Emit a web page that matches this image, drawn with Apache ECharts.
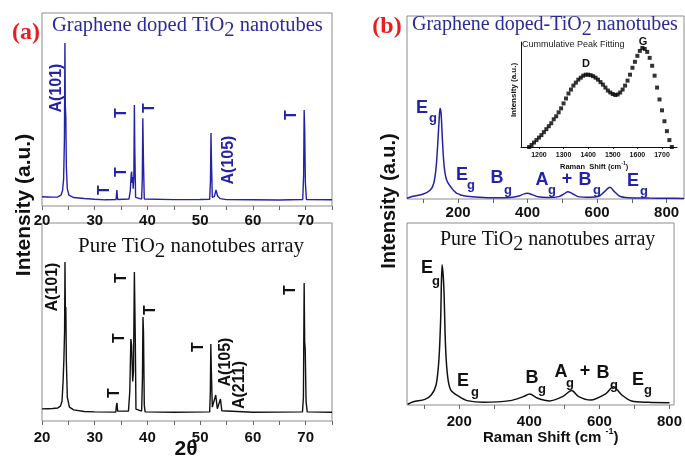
<!DOCTYPE html>
<html>
<head>
<meta charset="UTF-8">
<title>XRD and Raman of TiO2 nanotubes</title>
<script src="https://cdn.jsdelivr.net/npm/echarts@6/dist/echarts.min.js"></script>
<style>html,body{margin:0;background:#fff}#main{width:685px;height:462px}</style>
</head>
<body>
<div id="main"></div>
<script>
// XRD patterns: [2theta, intensity a.u.]
var xrdGraphene = [[20,4.8],[21,4.7],[22,4.6],[23,4.7],[23.6,5.6],[23.9,8],[24.1,14],[24.25,34],[24.35,84.5],[24.42,52],[24.52,46],[24.62,20],[24.8,9],[25.1,5.6],[26,4.4],[28,3.9],[30,3.5],[32,3.2],[34.05,3.3],[34.2,8.3],[34.35,3.4],[36.5,3.6],[36.75,8],[36.9,16],[37.0,17.8],[37.1,12],[37.2,15],[37.3,9],[37.42,15],[37.52,52.3],[37.6,30],[37.75,4.5],[38.9,3.6],[39.02,14],[39.12,45.4],[39.25,22],[39.4,3.6],[45,3.3],[50,3.4],[51.8,3.5],[51.95,13],[52.05,37.8],[52.15,22],[52.3,4.5],[52.7,5],[53.0,8.3],[53.3,5.2],[53.8,3.8],[55,3.3],[60,3.2],[65,3.1],[69.45,3.4],[69.62,16],[69.72,49.7],[69.82,40],[69.95,12],[70.15,3.4],[75,3.2]];
var xrdPure = [[20,6.1],[21,6.2],[22,6.3],[23,6.6],[23.5,7.5],[23.8,10],[24.0,20],[24.15,31],[24.28,45],[24.36,80.3],[24.43,56],[24.52,57.6],[24.62,30],[24.8,12],[25.2,7],[26,5.6],[28,4.8],[30,4.6],[34.0,4.5],[34.12,8],[34.22,9.1],[34.35,5],[34.6,4.4],[36.4,5],[36.65,15],[36.85,41.4],[37.0,38],[37.2,20],[37.35,25],[37.52,75.3],[37.6,60],[37.7,40],[37.82,6],[38.9,5],[39.05,22],[39.15,52.5],[39.25,45],[39.4,8],[39.55,4.6],[45,4.4],[51.8,4.6],[51.93,15],[52.02,38.9],[52.12,25],[52.3,7],[52.6,6],[52.95,13.1],[53.25,6.2],[53.5,5.8],[53.85,11.1],[54.1,5.2],[54.4,4.6],[60,4.4],[69.4,4.6],[69.58,12],[69.72,69.7],[69.82,40],[69.92,36.4],[70.08,10],[70.3,4.6],[75,4.4]];

// Raman spectra: [shift cm-1, intensity a.u.]
var ramanGraphene = [[53,0.4],[70,1.5],[100,2.7],[120,4.9],[130,8.6],[137,17.7],[142,32],[146,45],[148,49.5],[151,47],[155,32],[160,17.7],[167,10.4],[182,5.8],[195,3.2],[201,2.8],[210,2],[225,1.5],[260,1],[300,0.7],[350,0.8],[375,1.6],[390,2.8],[400,3.1],[412,2.5],[430,1.2],[460,0.8],[490,1.3],[505,2.8],[516,4],[528,3],[545,1.3],[580,0.9],[605,1.5],[620,3.8],[637,6.4],[650,4],[665,1.5],[690,0.7],[750,0.5],[800,0.4],[850,0.3]];
var ramanPure = [[53,0.4],[69,1.8],[102,3.1],[120,5.5],[134,11],[142,24.7],[147,46.7],[151,77],[156,65],[161,32],[167,15.6],[176,8.2],[200,4.6],[223,2.4],[270,1.5],[345,2.4],[383,4.6],[401,6],[424,3.7],[458,2.2],[495,4.6],[521,7.9],[541,4.6],[575,2.7],[617,6],[640,10],[664,5.5],[692,2.2],[739,1.5],[800,1.3]];

// inset: cumulative peak fitting (D and G bands)
var insetShift = [1160,1170,1180,1190,1200,1210,1220,1230,1240,1250,1260,1270,1280,1290,1300,1310,1320,1330,1340,1350,1360,1370,1380,1390,1400,1410,1420,1430,1440,1450,1460,1470,1480,1490,1500,1510,1520,1530,1540,1550,1560,1570,1580,1590,1600,1610,1620,1630,1640,1650,1660,1670,1680,1690,1700,1710,1720,1730,1740];
var insetInt = [0,0.02,0.045,0.07,0.095,0.12,0.15,0.18,0.21,0.24,0.28,0.31,0.35,0.39,0.44,0.49,0.54,0.58,0.62,0.65,0.68,0.70,0.72,0.73,0.73,0.725,0.715,0.70,0.68,0.655,0.63,0.60,0.57,0.55,0.535,0.525,0.53,0.55,0.58,0.62,0.67,0.73,0.80,0.86,0.92,0.97,1.00,0.99,0.96,0.90,0.82,0.72,0.60,0.48,0.37,0.26,0.16,0.07,0];

var xrdTicks = [20, 30, 40, 50, 60, 70];
var ramanTicks = [200, 400, 600, 800];
var insetTicks = [1200, 1300, 1400, 1500, 1600, 1700];

var blue = '#2323a8';
var blueText = '#2b2b98';
var sans = '"Liberation Sans", Arial, sans-serif';
var serif = '"Liberation Serif", "Times New Roman", serif';

var ctx = document.createElement('canvas').getContext('2d');
function textWidth(str, font) { ctx.font = font; return ctx.measureText(str).width; }

// text pieces laid out one after the other (sub/superscripts)
function runs(x, y, parts, weight, family, color) {
    var out = [];
    parts.forEach(function (p) {
        var font = weight + ' ' + p[1] + 'px ' + family;
        out.push({type: 'text', x: x, y: y + p[2], style: {text: p[0], font: font, fill: color, align: 'left', verticalAlign: 'middle'}});
        x += textWidth(p[0], font);
    });
    return out;
}
function txt(s, x, y, size, color, opt) {
    opt = opt || {};
    return {type: 'text', x: x, y: y, rotation: opt.rot ? Math.PI / 2 : 0,
        style: {text: s, font: (opt.weight || 'bold') + ' ' + size + 'px ' + (opt.family || sans), fill: color, align: 'center', verticalAlign: 'middle'}};
}
function mode(letter, ex, ey, gx, gy, color) {
    return [txt(letter, ex, ey, 18, color), txt('g', gx, gy, 13, color)];
}

var graphic = [];
graphic.push(txt('(a)', 26, 33, 24, '#e5201f', {family: serif}));
graphic.push(txt('(b)', 387, 27, 24, '#e5201f', {family: serif}));
graphic = graphic.concat(
    runs(52, 26, [['Graphene doped TiO', 20.5, 0], ['2', 20.5, 5], [' nanotubes', 20.5, 0]], 'normal', serif, blueText),
    runs(78, 246, [['Pure TiO', 21, 0], ['2', 21, 5], [' nanotubes array', 21, 0]], 'normal', serif, '#111'),
    runs(412, 25, [['Graphene doped-TiO', 20, 0], ['2', 20, 5], [' nanotubes', 20, 0]], 'normal', serif, blueText),
    runs(440, 240, [['Pure TiO', 20, 0], ['2', 20, 5], [' nanotubes array', 20, 0]], 'normal', serif, '#111'),
    runs(483, 438, [['Raman Shift (cm ', 15, 0], ['-1', 9, -6], [')', 15, 0]], 'bold', sans, '#111'),
    runs(560, 167, [['Raman  Shift (cm', 7.5, 0], ['-1', 5, -3], [')', 7.5, 0]], 'bold', sans, '#111')
);
graphic.push(txt('Intensity (a.u.)', 24, 205, 21, '#111', {rot: true}));
graphic.push(txt('Intensity (a.u.)', 389, 201, 20, '#111', {rot: true}));
graphic.push(txt('2θ', 186, 449, 21, '#111'));

// XRD peak labels
[['A(101)', 57, 88], ['T', 105, 190], ['T', 122, 172], ['T', 122, 113], ['T', 150, 108], ['A(105)', 229, 160], ['T', 292, 115]]
    .forEach(function (l) { graphic.push(txt(l[0], l[1], l[2], 16, blue, {rot: true})); });
[['A(101)', 53, 287], ['T', 115, 393], ['T', 120, 338], ['T', 122, 278], ['T', 151, 310], ['T', 199, 347], ['A(105)', 226, 362], ['A(211)', 240, 385], ['T', 291, 290]]
    .forEach(function (l) { graphic.push(txt(l[0], l[1], l[2], 16, '#111', {rot: true})); });

// Raman mode labels
graphic = graphic.concat(
    mode('E', 422, 108, 433, 118, blue), mode('E', 462, 175, 471, 185, blue), mode('B', 497, 178, 508, 190, blue),
    mode('A', 542, 180, 552, 190, blue), [txt('+', 567, 179, 18, blue)], mode('B', 585, 180, 597, 190, blue),
    mode('E', 633, 181, 644, 191, blue),
    mode('E', 427, 268, 436, 281, '#111'), mode('E', 463, 381, 475, 392, '#111'), mode('B', 532, 378, 542, 389, '#111'),
    mode('A', 561, 372, 570, 383, '#111'), [txt('+', 585, 371, 18, '#111')], mode('B', 603, 373, 614, 385, '#111'),
    mode('E', 638, 380, 648, 390, '#111')
);
// inset texts
graphic.push({type: 'text', x: 522, y: 45, style: {text: 'Cummulative Peak Fitting', font: '9px ' + sans, fill: '#222', align: 'left', verticalAlign: 'middle'}});
graphic.push(txt('D', 586, 64, 11, '#111'));
graphic.push(txt('G', 643, 42, 11, '#111'));
graphic.push(txt('Intensity (a.u.)', 514, 90, 8, '#111', {rot: true}));

var gridStyle = {show: true, borderColor: '#8c8c8c', borderWidth: 1, backgroundColor: 'transparent'};
function tickLabel(margin, size) {
    return {color: '#111', fontFamily: sans, fontWeight: 'bold', fontSize: size || 15, margin: margin,
        formatter: function (v) { return String(v); }};
}
var tickLine = {lineStyle: {color: '#666'}, length: 4};

var chart = echarts.init(document.getElementById('main'), null, {renderer: 'canvas'});
chart.setOption({
    animation: false,
    backgroundColor: '#fff',
    grid: [
        Object.assign({left: 42, top: 13, width: 290, height: 193}, gridStyle),
        Object.assign({left: 42, top: 223, width: 290, height: 198}, gridStyle),
        Object.assign({left: 407, top: 16, width: 277, height: 183}, gridStyle),
        Object.assign({left: 407, top: 223, width: 271, height: 182}, gridStyle),
        {left: 521, top: 42, width: 156, height: 105, show: false}
    ],
    xAxis: [
        {gridIndex: 0, type: 'value', min: 20, max: 75, interval: 10, axisLine: {show: false}, axisTick: tickLine,
            minorTick: {show: true, splitNumber: 2, length: 4, lineStyle: {color: '#666'}}, splitLine: {show: false},
            axisLabel: Object.assign({customValues: xrdTicks}, tickLabel(7))},
        {gridIndex: 1, type: 'value', min: 20, max: 75, interval: 10, axisLine: {show: false}, axisTick: tickLine,
            minorTick: {show: true, splitNumber: 2, length: 4, lineStyle: {color: '#666'}}, splitLine: {show: false},
            axisLabel: Object.assign({customValues: xrdTicks}, tickLabel(9))},
        {gridIndex: 2, type: 'value', min: 53, max: 850, axisLine: {show: false},
            axisTick: Object.assign({customValues: [100, 200, 300, 400, 500, 600, 700, 800]}, tickLine), splitLine: {show: false},
            axisLabel: Object.assign({customValues: ramanTicks}, tickLabel(6))},
        {gridIndex: 3, type: 'value', min: 51, max: 813, axisLine: {show: false},
            axisTick: Object.assign({customValues: [100, 200, 300, 400, 500, 600, 700, 800]}, tickLine), splitLine: {show: false},
            axisLabel: Object.assign({customValues: ramanTicks}, tickLabel(9))},
        {gridIndex: 4, type: 'value', min: 1127, max: 1761, axisLine: {show: true, lineStyle: {color: '#111', width: 1}},
            axisTick: {customValues: insetTicks, length: 2, lineStyle: {color: '#111'}}, splitLine: {show: false},
            axisLabel: Object.assign({customValues: insetTicks}, tickLabel(5, 7))}
    ],
    yAxis: [
        {gridIndex: 0, type: 'value', min: 0, max: 100, show: false},
        {gridIndex: 1, type: 'value', min: 0, max: 100, show: false},
        {gridIndex: 2, type: 'value', min: 0, max: 100, show: false},
        {gridIndex: 3, type: 'value', min: 0, max: 100, show: false},
        {gridIndex: 4, type: 'value', min: 0, max: 1.06, axisLine: {show: true, lineStyle: {color: '#111', width: 1}},
            axisTick: {show: false}, axisLabel: {show: false}, splitLine: {show: false}}
    ],
    series: [
        {type: 'line', xAxisIndex: 0, yAxisIndex: 0, data: xrdGraphene, showSymbol: false, lineStyle: {color: blue, width: 1.4}, silent: true},
        {type: 'line', xAxisIndex: 1, yAxisIndex: 1, data: xrdPure, showSymbol: false, lineStyle: {color: '#111', width: 1.4}, silent: true},
        {type: 'line', xAxisIndex: 2, yAxisIndex: 2, data: ramanGraphene, smooth: 0.3, showSymbol: false, lineStyle: {color: blue, width: 1.5}, silent: true},
        {type: 'line', xAxisIndex: 3, yAxisIndex: 3, data: ramanPure, smooth: 0.3, showSymbol: false, lineStyle: {color: '#111', width: 1.5}, silent: true},
        {type: 'scatter', xAxisIndex: 4, yAxisIndex: 4, symbol: 'rect', symbolSize: 4, itemStyle: {color: '#000'}, silent: true,
            data: insetShift.map(function (s, i) { return [s, insetInt[i]]; })}
    ],
    graphic: graphic
});
</script>
</body>
</html>
